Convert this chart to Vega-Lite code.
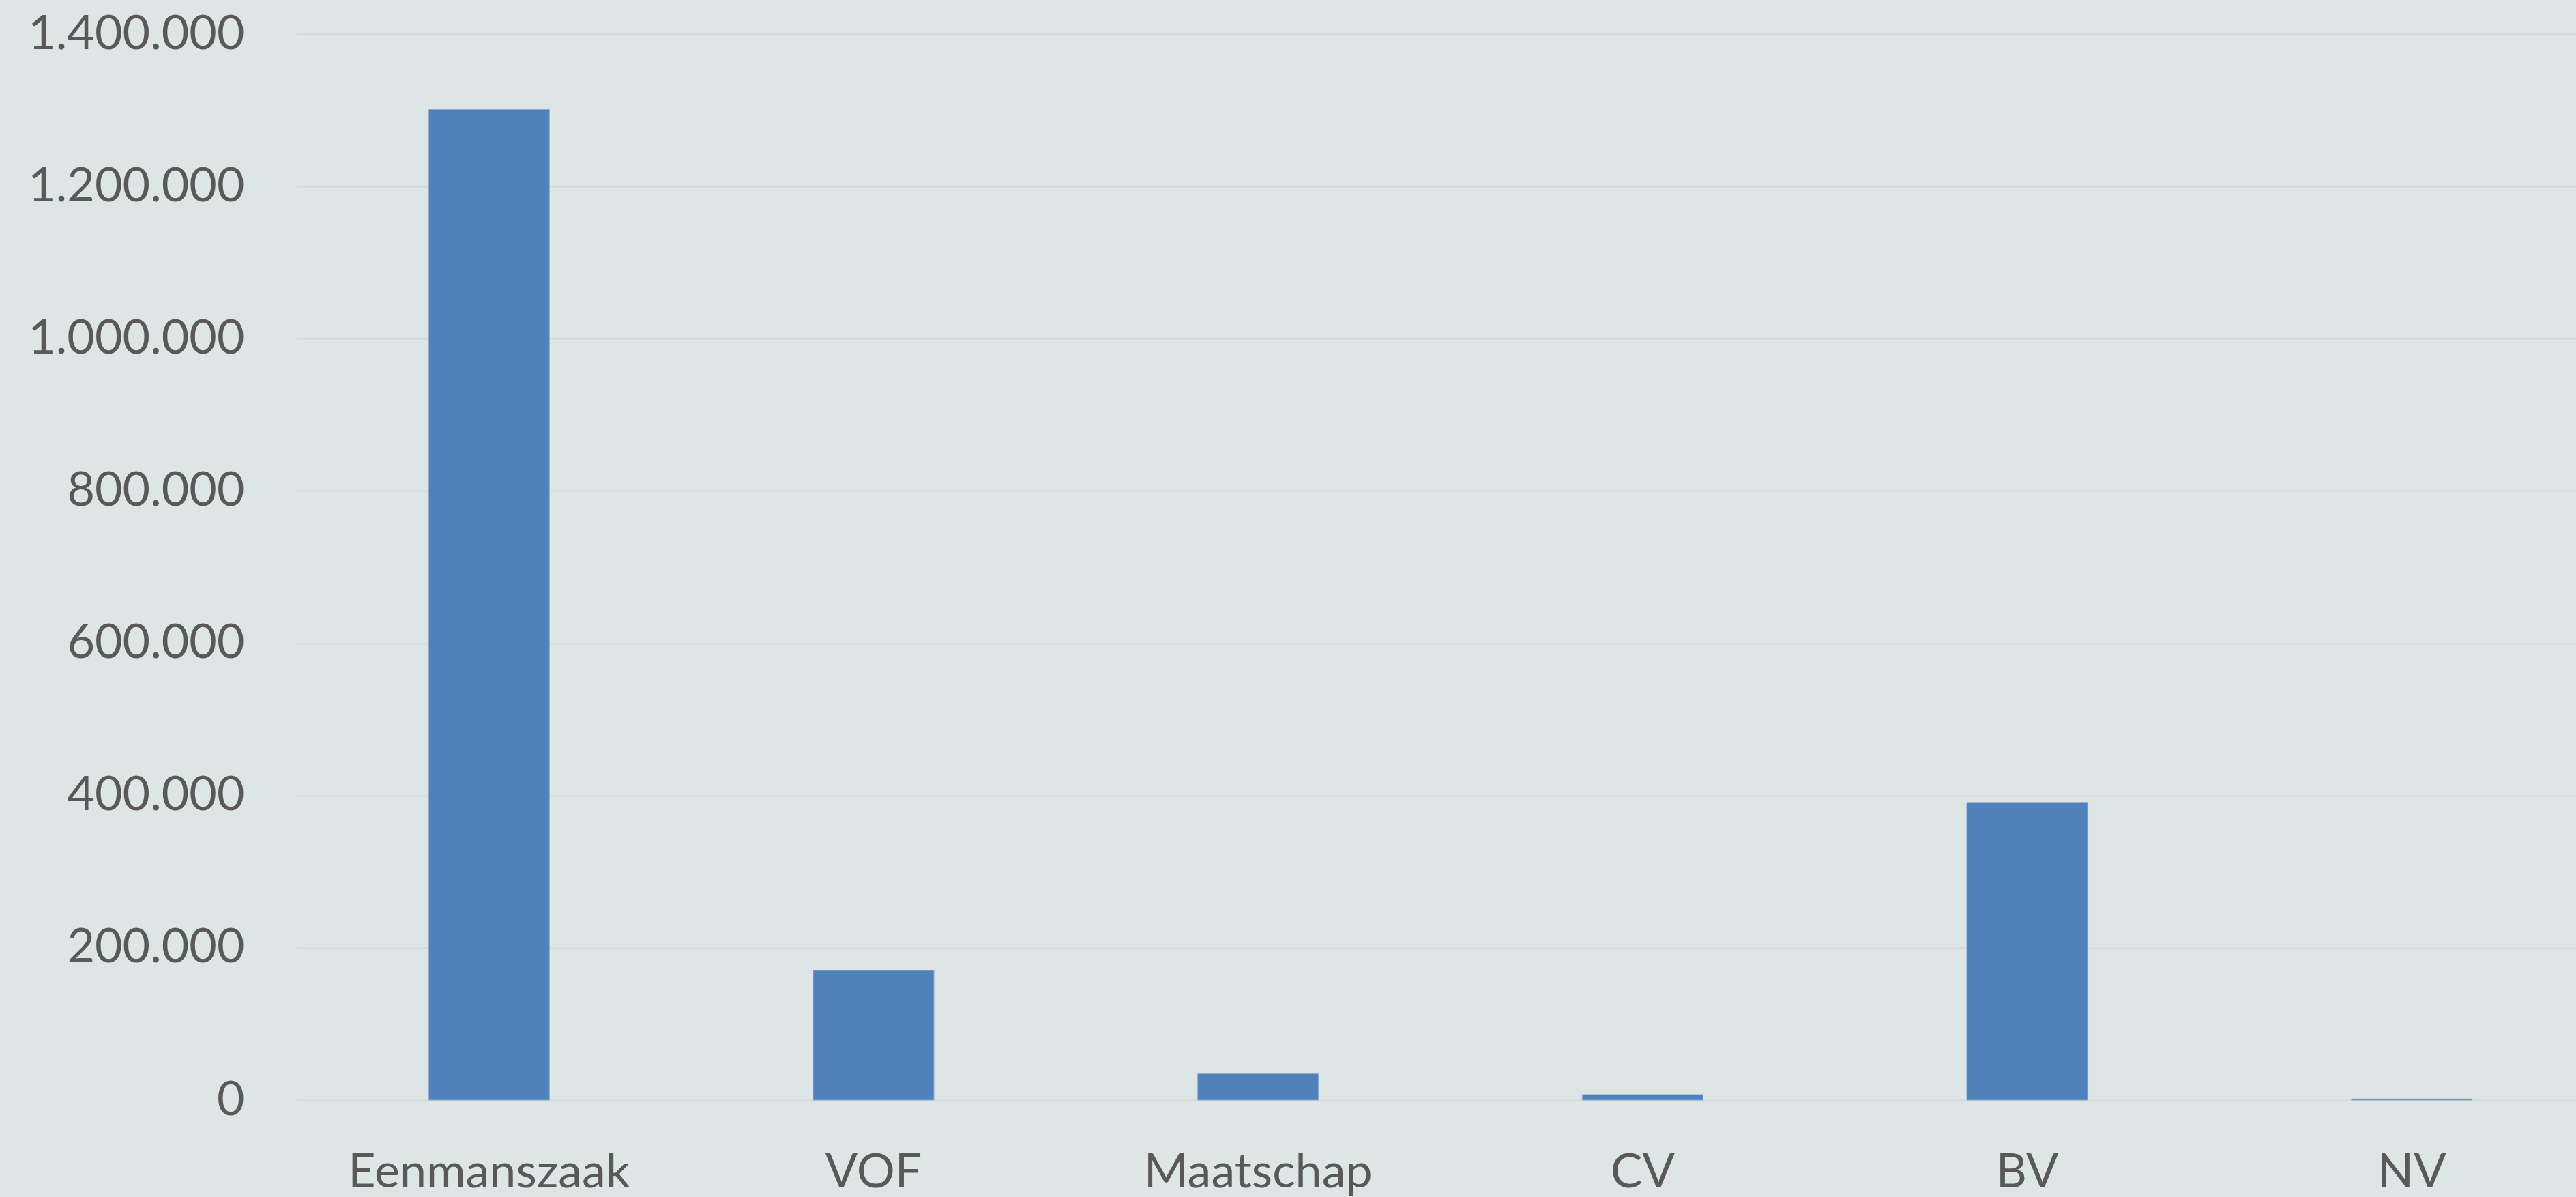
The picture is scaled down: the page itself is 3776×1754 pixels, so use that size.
{
  "$schema": "https://vega.github.io/schema/vega-lite/v6.json",
  "autosize": "none",
  "padding": {"left": 435, "top": 50, "right": 0, "bottom": 142},
  "width": 3382,
  "height": 1562,
  "background": "#DEE6E5",
  "config": {
    "view": {"stroke": null},
    "locale": {"number": {"decimal": ",", "thousands": ".", "grouping": [3], "currency": ["€", ""]}},
    "axis": {"labelFont": "Lato", "labelColor": "#595959", "labelFontSize": 70, "labelLimit": 0, "labelOverlap": false}
  },
  "data": {
    "values": [
      {"rechtsvorm": "Eenmanszaak", "aantal": 1301000},
      {"rechtsvorm": "VOF", "aantal": 170300},
      {"rechtsvorm": "Maatschap", "aantal": 34400},
      {"rechtsvorm": "CV", "aantal": 7200},
      {"rechtsvorm": "BV", "aantal": 390900},
      {"rechtsvorm": "NV", "aantal": 1500}
    ]
  },
  "mark": {"type": "bar", "color": "#4F81BD", "stroke": "#8FAAD0", "strokeWidth": 1},
  "encoding": {
    "x": {
      "field": "rechtsvorm",
      "type": "nominal",
      "sort": null,
      "scale": {"paddingInner": 0.686, "paddingOuter": 0.343},
      "axis": {"title": null, "domain": false, "ticks": false, "tickSize": 0, "labelAngle": 0, "labelBaseline": "alphabetic", "labelPadding": 127, "grid": false}
    },
    "y": {
      "field": "aantal",
      "type": "quantitative",
      "scale": {"domain": [0, 1400000], "nice": false},
      "axis": {"title": null, "domain": false, "ticks": false, "tickSize": 0, "values": [0, 200000, 400000, 600000, 800000, 1000000, 1200000, 1400000], "format": ",d", "labelPadding": 77, "gridColor": "#D6D5D7", "gridWidth": 2}
    }
  }
}
